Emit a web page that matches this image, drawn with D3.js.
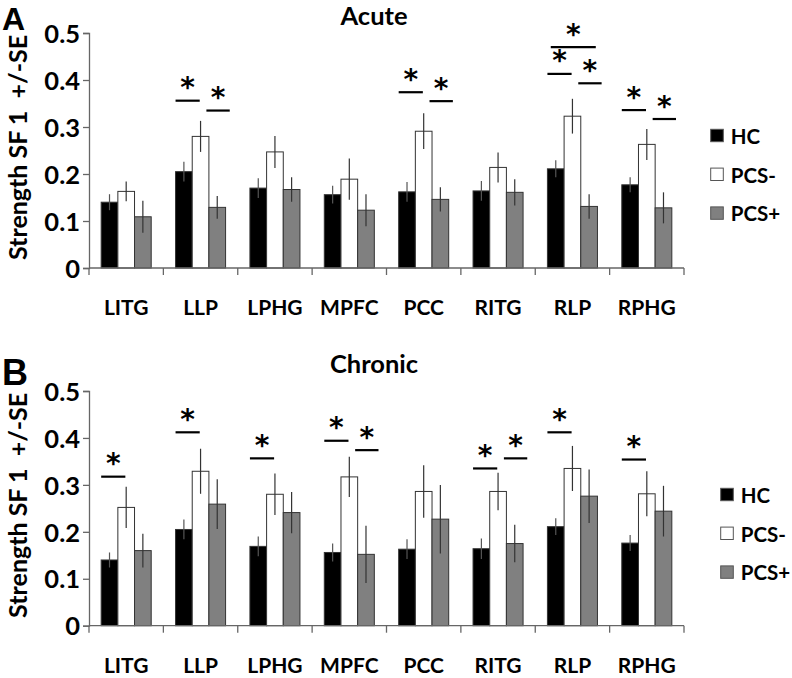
<!DOCTYPE html>
<html><head><meta charset="utf-8">
<script src="https://cdn.jsdelivr.net/npm/d3@7"></script>
<style>body{margin:0;background:#fff}svg{display:block}</style>
</head><body>
<svg id="c" width="792" height="678"></svg>
<script>
const categories = ["LITG","LLP","LPHG","MPFC","PCC","RITG","RLP","RPHG"];
const groups = ["HC","PCS-","PCS+"];
const yTicks = [0,0.1,0.2,0.3,0.4,0.5];
const yTickLabels = ["0","0.1","0.2","0.3","0.4","0.5"];

const acuteHC       = [0.140,0.205,0.170,0.156,0.162,0.164,0.211,0.177];
const acuteHCse     = [0.017,0.021,0.021,0.019,0.021,0.021,0.018,0.016];
const acutePCSneg   = [0.163,0.280,0.247,0.189,0.291,0.214,0.323,0.263];
const acutePCSnegSE = [0.021,0.033,0.034,0.044,0.038,0.032,0.037,0.033];
const acutePCSpos   = [0.109,0.129,0.167,0.123,0.146,0.161,0.131,0.128];
const acutePCSposSE = [0.034,0.024,0.026,0.034,0.026,0.028,0.026,0.033];

const chronicHC       = [0.140,0.205,0.169,0.156,0.163,0.164,0.211,0.176];
const chronicHCse     = [0.016,0.021,0.021,0.019,0.021,0.022,0.018,0.017];
const chronicPCSneg   = [0.252,0.329,0.280,0.317,0.286,0.286,0.335,0.281];
const chronicPCSnegSE = [0.044,0.048,0.044,0.043,0.056,0.040,0.048,0.048];
const chronicPCSpos   = [0.160,0.259,0.241,0.152,0.227,0.175,0.276,0.244];
const chronicPCSposSE = [0.036,0.053,0.044,0.061,0.073,0.040,0.057,0.054];

// significance bars: [category, comparison, height]
// a = HC vs PCS-, b = PCS- vs PCS+, c = HC vs PCS+
const acuteSig = [["LLP","a",0.356],["LLP","b",0.335],["PCC","a",0.374],["PCC","b",0.355],
  ["RLP","a",0.413],["RLP","b",0.393],["RLP","c",0.470],["RPHG","a",0.336],["RPHG","b",0.317]];
const chronicSig = [["LITG","a",0.3175],["LLP","a",0.412],["LPHG","a",0.3565],["MPFC","a",0.394],
  ["MPFC","b",0.374],["RITG","a",0.335],["RITG","b",0.3565],["RLP","a",0.412],["RPHG","a",0.354]];

const colors = {"HC":"#000000","PCS-":"#ffffff","PCS+":"#808080"};
const FONT = "Lato, 'Open Sans', sans-serif";
const svg = d3.select("#c");

function panel(opt){
  const g = svg.append("g");
  const x = d3.scaleBand().domain(categories).range([89,684]).paddingInner(0).paddingOuter(0);
  const x1 = d3.scaleBand().domain(groups).range([0,x.bandwidth()]).paddingInner(0).paddingOuter(0.73);
  const y = d3.scaleLinear().domain([0,0.5]).range([opt.y0, opt.y1]);
  const bw = x1.bandwidth();
  const rows = categories.map((c,i)=>groups.map((gname,j)=>({c, g:gname, v:opt.vals[j][i], se:opt.ses[j][i]}))).flat();

  // bars
  g.selectAll("rect.bar").data(rows).join("rect")
    .attr("x", d=>x(d.c)+x1(d.g)).attr("y", d=>y(d.v))
    .attr("width", bw).attr("height", d=>y(0)-y(d.v))
    .attr("fill", d=>colors[d.g]).attr("stroke", "#333").attr("stroke-width", 1);
  // error bars
  g.selectAll("line.err").data(rows).join("line")
    .attr("x1", d=>x(d.c)+x1(d.g)+bw/2).attr("x2", d=>x(d.c)+x1(d.g)+bw/2)
    .attr("y1", d=>y(d.v+d.se)).attr("y2", d=>y(d.v-d.se))
    .attr("stroke", d=>d.g==="HC"?"#555":"#333").attr("stroke-width",1.2);

  // y axis
  const ya = g.append("g").attr("transform","translate(89,0)")
    .call(d3.axisLeft(y).tickValues(yTicks).tickFormat((d,i)=>yTickLabels[i]).tickSizeOuter(0).tickSize(6));
  ya.select(".domain").attr("stroke","#666").attr("stroke-width",1.3);
  ya.selectAll(".tick line").attr("stroke","#666").attr("stroke-width",1.3);
  ya.selectAll(".tick text").attr("font-family",FONT).attr("font-weight","bold").attr("font-size",25.5)
    .attr("fill","#000").attr("x",-9).attr("dy","0.36em");

  // x axis line with boundary ticks
  g.append("line").attr("x1",x.range()[0]).attr("x2",x.range()[1]).attr("y1",y(0)).attr("y2",y(0))
    .attr("stroke","#666").attr("stroke-width",1.3);
  const bounds = categories.map(c=>x(c)).concat([x.range()[1]]);
  g.selectAll("line.bt").data(bounds).join("line")
    .attr("x1",d=>d).attr("x2",d=>d).attr("y1",y(0)).attr("y2",y(0)+7)
    .attr("stroke","#666").attr("stroke-width",1.3);
  g.selectAll("text.cat").data(categories).join("text")
    .attr("x",d=>x(d)+x.bandwidth()/2).attr("y",y(0)+47)
    .attr("text-anchor","middle").attr("font-family",FONT).attr("font-weight","bold").attr("font-size",21)
    .text(d=>d);

  // significance
  const span = {
    a: c=>[x(c)+x1("HC"), x(c)+x1("PCS-")+bw*0.45],
    b: c=>[x(c)+x1("PCS-")+bw*0.85, x(c)+x1("PCS+")+bw*1.25],
    c: c=>[x(c)+x1("HC")+bw*0.2, x(c)+x1("PCS+")+bw*0.9]
  };
  opt.sig.forEach(([c,p,h])=>{
    const [xa,xb] = span[p](c);
    g.append("line").attr("x1",xa).attr("x2",xb).attr("y1",y(h)).attr("y2",y(h))
      .attr("stroke","#000").attr("stroke-width",2.2);
    g.append("text").attr("x",(xa+xb)/2).attr("y",y(h)-3.5).attr("text-anchor","middle")
      .attr("font-family","'DejaVu Sans'").attr("font-weight","bold").attr("font-size",28).text("*");
  });

  // title, panel letter, y label
  g.append("text").attr("x",374).attr("y",opt.titleY).attr("text-anchor","middle")
    .attr("font-family",FONT).attr("font-weight","bold").attr("font-size",25.5).text(opt.title);
  g.append("text").attr("x",2).attr("y",opt.letterY)
    .attr("font-family","'Liberation Sans', Arial, sans-serif").attr("font-weight","bold").attr("font-size",opt.letterSize).text(opt.letter);
  g.append("text").attr("transform",`translate(27,${(opt.y0+opt.y1)/2 - 3}) rotate(-90)`)
    .attr("text-anchor","middle").attr("font-family",FONT).attr("font-weight","bold").attr("font-size",25)
    .attr("xml:space","preserve").style("white-space","pre")
    .text("Strength SF 1  +/-SE");

  // legend
  const lg = g.append("g").attr("transform",`translate(${opt.legX},${opt.legY})`);
  groups.forEach((gname,i)=>{
    lg.append("rect").attr("x",0).attr("y",i*38.8).attr("width",12.6).attr("height",12.4)
      .attr("fill",colors[gname]).attr("stroke","#555").attr("stroke-width",1);
    lg.append("text").attr("x",20).attr("y",i*38.8+14.5)
      .attr("font-family",FONT).attr("font-weight","bold").attr("font-size",20.5).text(gname);
  });
}

panel({y0:268, y1:33, vals:[acuteHC,acutePCSneg,acutePCSpos], ses:[acuteHCse,acutePCSnegSE,acutePCSposSE],
  sig:acuteSig, title:"Acute", titleY:25, letter:"A", letterSize:32, letterY:29.5, legX:710.7, legY:129.3});
panel({y0:625.7, y1:391, vals:[chronicHC,chronicPCSneg,chronicPCSpos], ses:[chronicHCse,chronicPCSnegSE,chronicPCSposSE],
  sig:chronicSig, title:"Chronic", titleY:373, letter:"B", letterSize:36, letterY:385, legX:720.7, legY:488.3});
</script>
</body></html>
